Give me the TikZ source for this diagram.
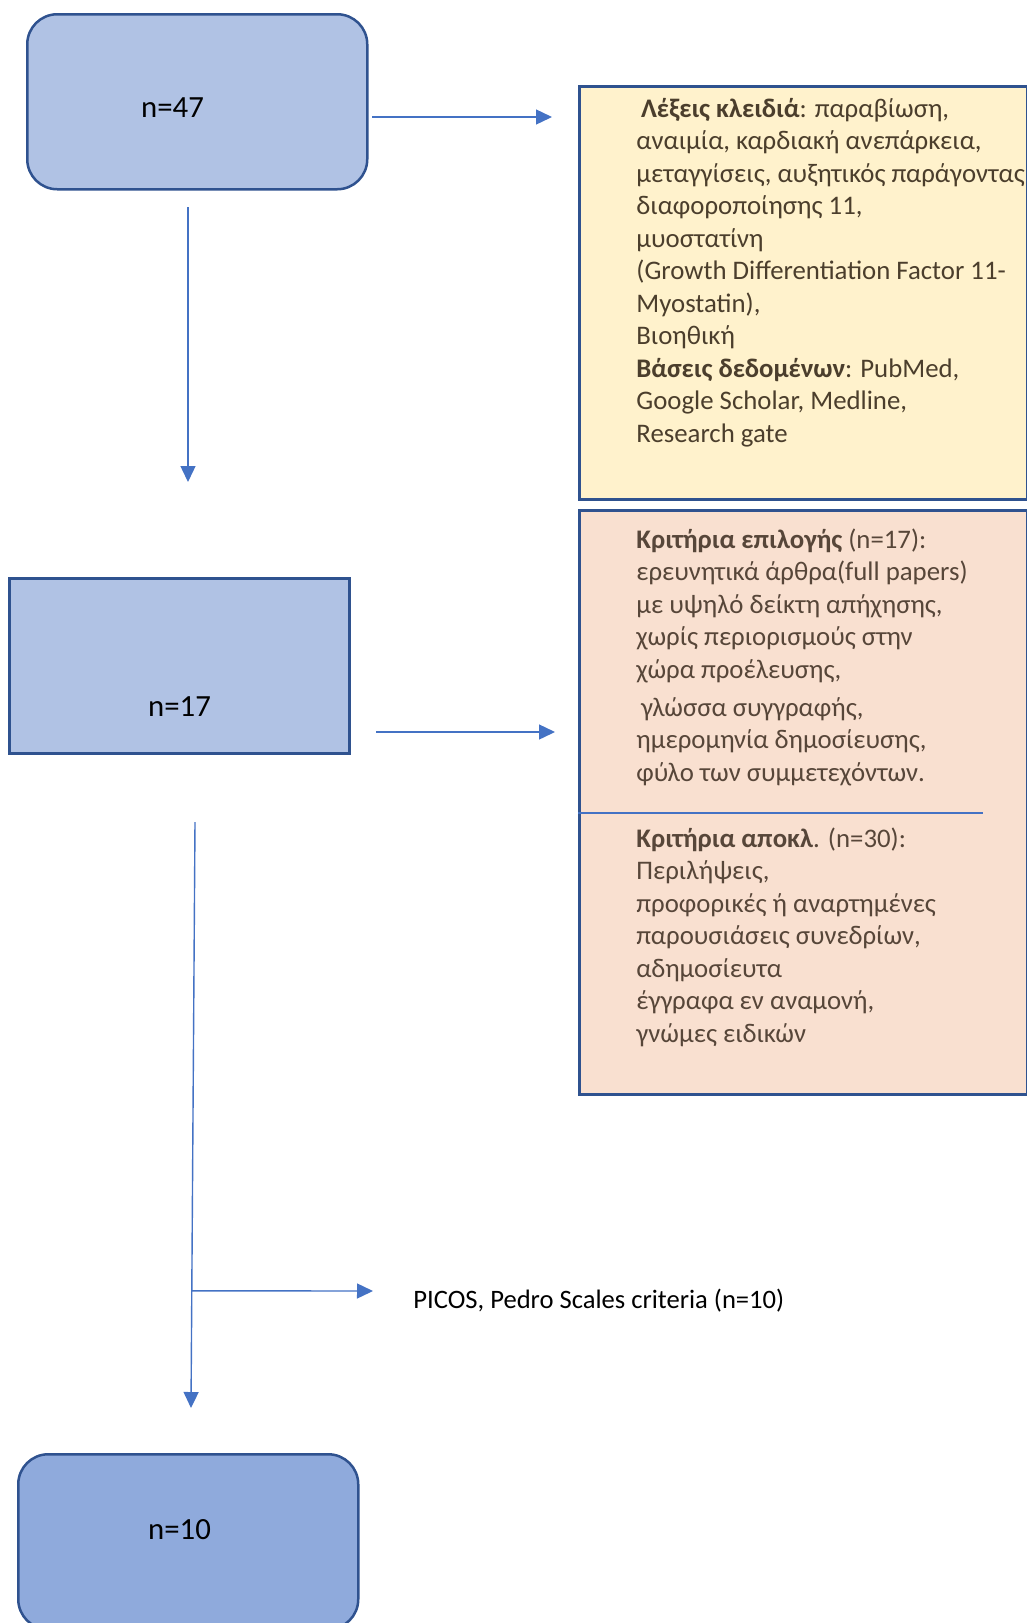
\documentclass[tikz,border=0pt]{standalone}
\usepackage{fontspec}
\setmainfont{Carlito}
\usetikzlibrary{arrows.meta,calc}
\definecolor{boxfill}{HTML}{B0C2E4}
\definecolor{boxdark}{HTML}{8FAADC}
\definecolor{boxline}{HTML}{2F528F}
\definecolor{arrowblue}{HTML}{4472C4}
\definecolor{keyfill}{HTML}{FFF2CC}
\definecolor{critfill}{HTML}{F9E0D0}
\definecolor{keytext}{HTML}{4B3E2C}
\definecolor{crittext}{HTML}{574639}
\tikzset{>={Triangle[length=8pt,width=7.5pt]}}
\tikzset{
    countbox/.style={draw=boxline,line width=1.25pt,fill=boxfill,anchor=north west,
        minimum width=170pt,minimum height=87.5pt,inner sep=0pt},
    countlabel/.style={font=\fontsize{15.4}{18}\selectfont,anchor=base,inner sep=0pt},
    infobox/.style={draw=boxline,line width=1.25pt,anchor=north west,minimum width=224pt,inner sep=0pt},
    infotext/.style={font=\fontsize{13.4}{16.25}\selectfont,align=left,anchor=base west,inner sep=0pt},
    flow/.style={->,draw=arrowblue,line width=0.7pt}
}

\begin{document}
\begin{tikzpicture}[x=0.5pt,y=-0.5pt]
    \clip (0,0) rectangle (1027,1623);
    \node[countbox,rounded corners=15pt] (all) at (26,13) {};
    \node[countbox] (sel) at (8,577) {};
    \node[countbox,rounded corners=15pt,fill=boxdark] (final) at (17,1453) {};
    \node[countlabel] (alln) at (172.5,117) {n=47};
    \node[countlabel] (seln) at (179.5,716) {n=17};
    \node[countlabel] (finaln) at (179.5,1539) {n=10};
    \node[infobox,fill=keyfill,minimum height=206.5pt] (keys) at (578,85) {};
    \node[infobox,fill=critfill,minimum height=292pt] (crit) at (578,509) {};
    \draw[draw=arrowblue,line width=0.6pt] (crit.west |- 0,813) -- (983,813);
    \node[infotext,text=keytext] (keywords) at (636,442)
        {\hspace*{2.3pt}\textbf{Λέξεις κλειδιά}: παραβίωση,\\
        αναιμία, καρδιακή ανεπάρκεια,\\
        μεταγγίσεις, αυξητικός παράγοντας\\
        διαφοροποίησης 11,\\
        μυοστατίνη\\
        (Growth Differentiation Factor 11-\\
        Myostatin),\\
        Βιοηθική\\
        \textbf{Βάσεις δεδομένων}: PubMed,\\
        Google Scholar, Medline,\\
        Research gate};
    \node[infotext,text=crittext] (incl) at (636,781)
        {\textbf{Κριτήρια επιλογής} (n=17):\\
        ερευνητικά άρθρα(full papers)\\
        με υψηλό δείκτη απήχησης,\\
        χωρίς περιορισμούς στην\\
        χώρα προέλευσης,\\[2.75pt]
        \hspace*{2.3pt}γλώσσα συγγραφής,\\
        ημερομηνία δημοσίευσης,\\
        φύλο των συμμετεχόντων.};
    \node[infotext,text=crittext] (excl) at (636,1042)
        {\textbf{Κριτήρια αποκλ}. (n=30):\\
        Περιλήψεις,\\
        προφορικές ή αναρτημένες\\
        παρουσιάσεις συνεδρίων,\\
        αδημοσίευτα\\
        έγγραφα εν αναμονή,\\
        γνώμες ειδικών};
    \node[font=\fontsize{13.3}{16}\selectfont,anchor=base west,inner sep=0pt] (picos)
        at (413,1308) {PICOS, Pedro Scales criteria (n=10)};
    \coordinate (allout) at (372,117);
    \coordinate (keysin) at (552,117);
    \coordinate (alldown) at (188,207);
    \coordinate (selin) at (188,482);
    \coordinate (selout) at (376,732);
    \coordinate (critin) at (555,732);
    \coordinate (seldown) at (195,822);
    \coordinate (finalin) at (191,1408);
    \coordinate (split) at ($(seldown)!0.8!(finalin)$);
    \coordinate (picosin) at (373,1291);
    \draw[flow] (allout) -- (keysin);
    \draw[flow] (alldown) -- (selin);
    \draw[flow] (selout) -- (critin);
    \draw[flow] (seldown) -- (finalin);
    \draw[flow] (split) -- (picosin);
\end{tikzpicture}
\end{document}
